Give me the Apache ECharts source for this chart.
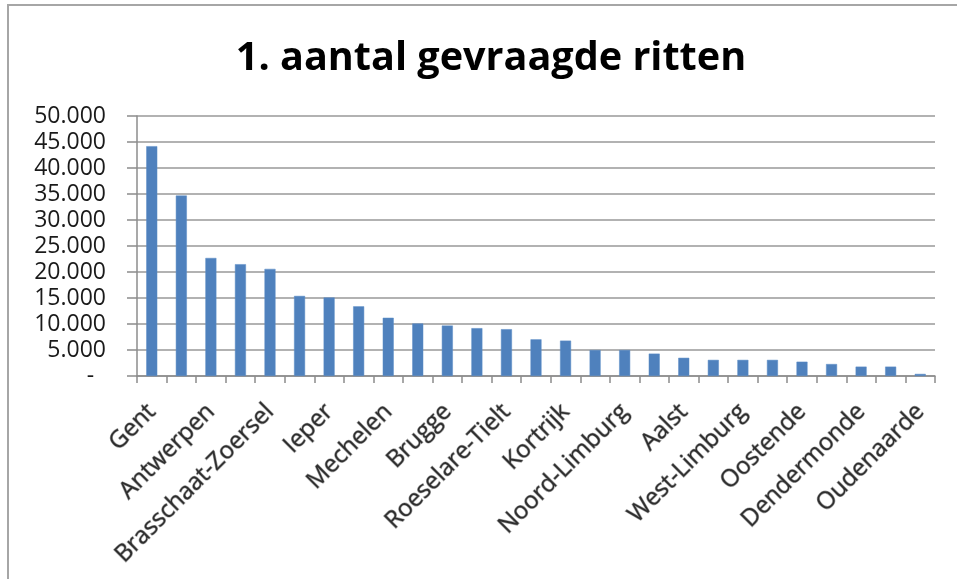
<!DOCTYPE html>
<html>
<head>
<meta charset="utf-8">
<script src="https://cdn.jsdelivr.net/npm/echarts@6/dist/echarts.min.js"></script>
<style>html,body{margin:0;padding:0;background:#fff}#c{width:957px;height:579px}</style>
</head>
<body>
<div id="c"></div>
<script>
var titleText = '1. aantal gevraagde ritten';
var categories = ['Gent','','Antwerpen','','Brasschaat-Zoersel','','Ieper','','Mechelen','','Brugge','','Roeselare-Tielt','','Kortrijk','','Noord-Limburg','','Aalst','','West-Limburg','','Oostende','','Dendermonde','','Oudenaarde'];
var values = [44200,34700,22700,21500,20600,15400,15100,13400,11200,10100,9700,9200,9000,7050,6800,5000,5000,4300,3500,3100,3100,3100,2750,2300,1800,1800,400];
var yTicks = {min:0, max:50000, interval:5000};

function fmt(v){
  if (v === 0) return '-  ';
  return String(v).replace(/\B(?=(\d{3})+(?!\d))/g, '.');
}

var chart = echarts.init(document.getElementById('c'), null, {renderer:'canvas'});
chart.setOption({
  backgroundColor:'#ffffff',
  animation:false,
  title:{
    text:titleText,
    left:486, top:34, textAlign:'center',
    textStyle:{fontFamily:'Open Sans', fontWeight:'bold', fontSize:39.6, color:'#000'}
  },
  graphic:[{
    type:'rect', silent:true,
    shape:{x:8, y:5, width:2000, height:2000},
    style:{fill:'none', stroke:'#a6a6a6', lineWidth:2}
  }],
  grid:{left:137, right:22, top:116, bottom:203, containLabel:false},
  xAxis:{
    type:'category', data:categories, boundaryGap:true,
    axisLine:{lineStyle:{color:'#8c8c8c', width:1.5}},
    axisTick:{show:true, interval:0, length:7, inside:false, lineStyle:{color:'#8c8c8c', width:1.5}},
    axisLabel:{interval:1, rotate:45, margin:32, align:'right', verticalAlign:'middle',
      fontFamily:'Open Sans', fontSize:24, color:'#2e2e2e', textBorderColor:'#a8a8a8', textBorderWidth:1.2}
  },
  yAxis:{
    type:'value', min:yTicks.min, max:yTicks.max, interval:yTicks.interval,
    axisLine:{show:true, lineStyle:{color:'#8c8c8c', width:1.5}},
    axisTick:{show:true, length:10, inside:false, lineStyle:{color:'#8c8c8c', width:1.5}},
    splitLine:{show:true, lineStyle:{color:'#999999', width:1.5}},
    axisLabel:{margin:31, fontFamily:'Open Sans', fontSize:23, color:'#1a1a1a', formatter:fmt}
  },
  series:[{
    type:'bar', data:values, barWidth:11,
    itemStyle:{color:'#4f81bd', borderColor:'#5b8cc6', borderWidth:0.5}
  }]
});
</script>
</body>
</html>
